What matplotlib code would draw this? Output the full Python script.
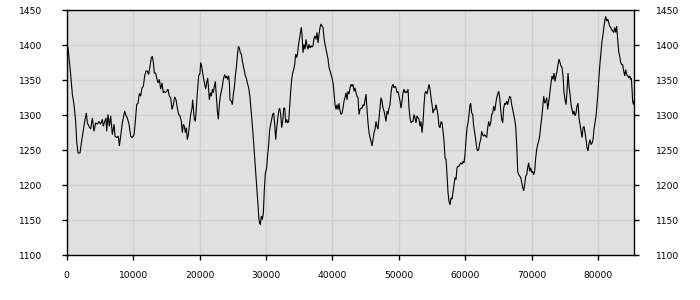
import matplotlib
matplotlib.use("Agg")
import matplotlib.pyplot as plt

# ---- data ----
x_a = [0, 196, 347, 597, 848, 1099, 1350, 1500, 1701, 2002, 2203, 2454, 2705, 2955, 3106,
       3357, 3608, 3858, 4109, 4360, 4611, 4862, 5113, 5364, 5514, 5715, 5915, 6016, 6216, 6417,
       6618, 6869, 7120, 7270, 7521, 7772, 7922, 8123, 8374, 8524, 8725, 8926, 9126, 9377, 9628,
       9879, 10130, 10330, 10531, 10732, 10932, 11133, 11334, 11534, 11735, 11936, 12137, 12337,
       12538, 12739, 12889, 13040, 13190, 13391, 13541, 13742, 13943, 14143, 14344, 14545]
y_a = [1400, 1396, 1382, 1358, 1330, 1315, 1291, 1263, 1246, 1246, 1260, 1275, 1291, 1303, 1289,
       1284, 1280, 1296, 1277, 1289, 1287, 1291, 1287, 1294, 1284, 1291, 1296, 1277, 1301, 1284,
       1299, 1272, 1287, 1270, 1268, 1270, 1256, 1270, 1289, 1296, 1306, 1299, 1296, 1287, 1270,
       1268, 1272, 1291, 1315, 1317, 1331, 1327, 1339, 1341, 1356, 1363, 1363, 1358,
       1370, 1382, 1384, 1375, 1360, 1360, 1353, 1346, 1351, 1337, 1346, 1332]

x_b = [14643, 14844, 15044, 15245, 15446, 15646, 15847, 16048, 16248, 16449, 16650, 16851, 17051,
       17252, 17402, 17553, 17703, 17854, 18004, 18155, 18305, 18456, 18657, 18857, 18958, 19058,
       19209, 19359, 19510, 19660, 19861, 20061, 20162, 20312, 20463, 20613, 20764, 20914, 21065,
       21215, 21366, 21466, 21617, 21767, 21918, 22068, 22219, 22369, 22520, 22670, 22821, 22971,
       23122, 23272, 23423, 23573, 23774, 23924, 24075, 24225, 24376, 24476, 24577, 24777, 24928,
       25078, 25229, 25379, 25530, 25680, 25831, 25981, 26132, 26282, 26433, 26584, 26734, 26885,
       27035, 27186, 27386, 27587, 27788, 27988, 28189, 28390, 28590, 28791, 28941, 29042]
y_b = [1334, 1332, 1334, 1337, 1327, 1325, 1308, 1315, 1326, 1322, 1310, 1301, 1299,
       1291, 1275, 1287, 1284, 1275, 1282, 1265, 1272, 1284, 1301, 1310, 1322, 1310,
       1294, 1291, 1310, 1332, 1356, 1360, 1375, 1370, 1360, 1351, 1344, 1337, 1346,
       1353, 1337, 1322, 1332, 1327, 1337, 1332, 1341, 1348, 1327, 1306, 1294, 1315,
       1327, 1334, 1341, 1351, 1358, 1353, 1356, 1351, 1356, 1346, 1322, 1320, 1315,
       1330, 1339, 1356, 1368, 1384, 1398, 1396, 1389, 1387, 1377, 1370, 1363, 1356,
       1353, 1346, 1339, 1325, 1303, 1280, 1253, 1227, 1201, 1172, 1151, 1146]

x_c = [29142, 29293, 29443, 29594, 29744, 29895, 30095, 30246, 30396, 30547, 30697, 30848, 30999,
       31149, 31300, 31450, 31601, 31751, 31902, 32052, 32203, 32353, 32504, 32654, 32805, 32955,
       33106, 33256, 33407, 33557, 33708, 33858, 34009, 34159, 34310, 34460, 34611, 34761, 34912,
       35063, 35213, 35313, 35413, 35564, 35714, 35865, 36016, 36166, 36317, 36467, 36618, 36768,
       36919, 37069, 37220, 37370, 37521, 37671, 37822, 37972, 38123, 38273, 38424, 38574, 38725,
       38875, 39026, 39176, 39327, 39477, 39628, 39778, 39929, 40079, 40230, 40380, 40531, 40681,
       40832, 40982, 41133, 41283, 41434, 41584, 41735, 41885, 42036, 42186, 42337, 42487, 42638,
       42788, 42939, 43089, 43240, 43390]
y_c = [1144, 1156, 1151, 1160, 1194, 1217, 1225, 1244, 1258, 1280, 1287, 1294, 1301,
       1303, 1287, 1265, 1282, 1294, 1306, 1310, 1301, 1282, 1291, 1310, 1310, 1289,
       1294, 1289, 1291, 1313, 1334, 1351, 1360, 1365, 1372, 1387, 1382, 1389, 1403,
       1410, 1420, 1425, 1415, 1389, 1401, 1394, 1408, 1399, 1394, 1401, 1396, 1399,
       1397, 1399, 1410, 1413, 1408, 1418, 1403, 1415, 1425, 1430, 1427, 1425, 1410,
       1401, 1394, 1387, 1380, 1368, 1363, 1358, 1353, 1346, 1332, 1315, 1308, 1315,
       1308, 1317, 1306, 1301, 1303, 1310, 1320, 1325, 1332, 1322, 1334, 1330, 1339,
       1344, 1341, 1344, 1334, 1339]

x_d = [43540, 43691, 43841, 43992, 44142, 44293, 44443, 44594, 44744, 44895, 45045, 45196, 45346,
       45497, 45647, 45798, 45948, 46099, 46249, 46400, 46550, 46701, 46851, 47002, 47152, 47303,
       47453, 47604, 47754, 47905, 48055, 48206, 48356, 48507, 48657, 48808, 48958, 49109, 49259,
       49410, 49560, 49711, 49861, 50012, 50162, 50313, 50464, 50614, 50765, 50915, 51066, 51216,
       51367, 51517, 51668, 51818, 51969, 52119, 52270, 52420, 52571, 52721, 52872, 53022, 53173,
       53323, 53474, 53624, 53775, 53925, 54076, 54226, 54377, 54527, 54678, 54828, 54979, 55129,
       55280, 55430, 55581, 55731, 55882, 56032, 56183, 56333, 56484, 56634, 56785, 56935, 57086,
       57236, 57387, 57537, 57688, 57838]
y_d = [1332, 1327, 1325, 1301, 1308, 1310, 1310, 1315, 1313, 1322, 1330, 1308, 1289,
       1275, 1268, 1263, 1256, 1265, 1275, 1280, 1291, 1284, 1280, 1296, 1310, 1325,
       1320, 1310, 1306, 1299, 1291, 1306, 1301, 1310, 1315, 1332, 1341, 1344, 1339,
       1341, 1339, 1332, 1334, 1327, 1320, 1310, 1320, 1332, 1337, 1332, 1334, 1332,
       1337, 1310, 1296, 1289, 1291, 1291, 1301, 1296, 1289, 1299, 1296, 1294, 1284,
       1291, 1275, 1289, 1315, 1332, 1334, 1330, 1337, 1344, 1337, 1325, 1315, 1303,
       1308, 1308, 1315, 1308, 1299, 1284, 1282, 1291, 1289, 1277, 1263, 1239, 1237,
       1215, 1189, 1177, 1172, 1182]

x_e = [57988, 58139, 58289, 58440, 58590, 58741, 58891, 59042, 59192, 59343, 59493, 59644, 59794,
       59945, 60095, 60246, 60396, 60547, 60697, 60798, 60948, 61099, 61249, 61400, 61550, 61701,
       61851, 62002, 62152, 62303, 62453, 62604, 62754, 62905, 63055, 63206, 63356, 63507, 63657,
       63808, 63958, 64109, 64259, 64410, 64560, 64711, 64861, 65012, 65162, 65313, 65463, 65614,
       65764, 65915, 66065, 66216, 66366, 66517, 66667, 66818, 66968, 67119, 67269, 67420, 67571,
       67721, 67872, 68022, 68173, 68323, 68474, 68624, 68775, 68925, 69076, 69226, 69377, 69527,
       69678, 69828, 69979, 70129, 70280, 70430, 70581, 70731, 70882, 71032, 71183, 71333, 71484,
       71634, 71785, 71935, 72086, 72236, 72387]
y_e = [1180, 1190, 1199, 1211, 1208, 1225, 1227, 1227, 1230, 1232, 1230, 1234, 1232,
       1244, 1265, 1282, 1289, 1301, 1315, 1317, 1303, 1301, 1284, 1275, 1265, 1253,
       1249, 1251, 1260, 1265, 1277, 1272, 1270, 1272, 1270, 1268, 1282, 1291, 1284,
       1289, 1301, 1303, 1313, 1306, 1315, 1325, 1330, 1334, 1325, 1308, 1294, 1289,
       1310, 1317, 1315, 1320, 1315, 1322, 1327, 1325, 1315, 1308, 1301, 1294, 1284,
       1258, 1220, 1215, 1213, 1211, 1204, 1197, 1192, 1201, 1213, 1215, 1225, 1232,
       1220, 1225, 1218, 1220, 1215, 1220, 1239, 1251, 1258, 1263, 1270, 1284, 1296,
       1310, 1327, 1317, 1320, 1325, 1308]

x_f = [72587, 72737, 72888, 73038, 73189, 73339, 73490, 73640, 73791, 73941, 74092, 74242, 74393,
       74543, 74694, 74844, 74995, 75145, 75296, 75446, 75597, 75747, 75898, 76048, 76199, 76349,
       76500, 76650, 76801, 76951, 77102, 77252, 77403, 77553, 77704, 77854, 78005, 78155, 78306,
       78456, 78607, 78757, 78908, 79058, 79209, 79360, 79510, 79661, 79811, 79962, 80112, 80263,
       80413, 80564, 80714, 80865, 81015, 81115, 81266, 81416, 81567, 81717, 81868, 82018, 82169,
       82319, 82470, 82620, 82771, 82921, 83072, 83222, 83373, 83523, 83674, 83824, 83975, 84125,
       84276, 84426, 84577, 84727, 84878, 84978, 85079, 85179, 85279, 85380]
y_f = [1322, 1334, 1346, 1356, 1351, 1360, 1348, 1356, 1363, 1372, 1380, 1375, 1370,
       1368, 1356, 1332, 1322, 1315, 1334, 1360, 1341, 1330, 1315, 1308, 1301, 1306,
       1299, 1303, 1313, 1317, 1296, 1287, 1277, 1268, 1282, 1284, 1275, 1265, 1253,
       1249, 1260, 1265, 1258, 1260, 1265, 1280, 1289, 1299, 1315, 1334, 1356, 1375,
       1391, 1406, 1415, 1427, 1437, 1441, 1434, 1437, 1432, 1427, 1425, 1422, 1420,
       1418, 1425, 1418, 1427, 1408, 1391, 1384, 1375, 1372, 1372, 1363, 1356, 1365,
       1358, 1356, 1353, 1356, 1351, 1353, 1337, 1320, 1315, 1320]

x_ticks = [0, 10000, 20000, 30000, 40000, 50000, 60000, 70000, 80000]
y_ticks = [1100, 1150, 1200, 1250, 1300, 1350, 1400, 1450]

xs = x_a + x_b + x_c + x_d + x_e + x_f
ys = y_a + y_b + y_c + y_d + y_e + y_f

# ---- figure ----
W, H = 700, 300
fig = plt.figure(figsize=(W / 100, H / 100), dpi=100)
left, right, top, bottom = 66.7, 634.3, 10.0, 255.3
ax = fig.add_axes([left / W, 1 - bottom / H, (right - left) / W, (bottom - top) / H])
ax.set_facecolor("#e0e0e0")
ax.plot(xs, ys, color="black", lw=0.8, solid_joinstyle="miter")
ax.set_xlim(0, 85420)
ax.set_ylim(1100, 1450)
ax.set_xticks(x_ticks)
ax.set_yticks(y_ticks)
ax.set_xticklabels([str(v) for v in x_ticks])
ax.set_yticklabels([str(v) for v in y_ticks])
ax.grid(True, color="#d0d0d0", lw=1.0)
ax.set_axisbelow(True)
for s in ax.spines.values():
    s.set_color("black")
    s.set_linewidth(1.0)
ax.tick_params(axis="both", direction="out", length=3.5, width=1.0,
               labelsize=6.6, colors="black")
ax.tick_params(axis="x", pad=7.5)
ax.tick_params(axis="y", pad=14.0)

ax2 = ax.twinx()
ax2.set_ylim(1100, 1450)
ax2.set_yticks(y_ticks)
ax2.set_yticklabels([str(v) for v in y_ticks])
ax2.tick_params(axis="y", direction="out", length=3.5, width=1.0,
                labelsize=6.6, pad=12.0, colors="black")
for s in ax2.spines.values():
    s.set_visible(False)

fig.savefig("out.png", dpi=100)
